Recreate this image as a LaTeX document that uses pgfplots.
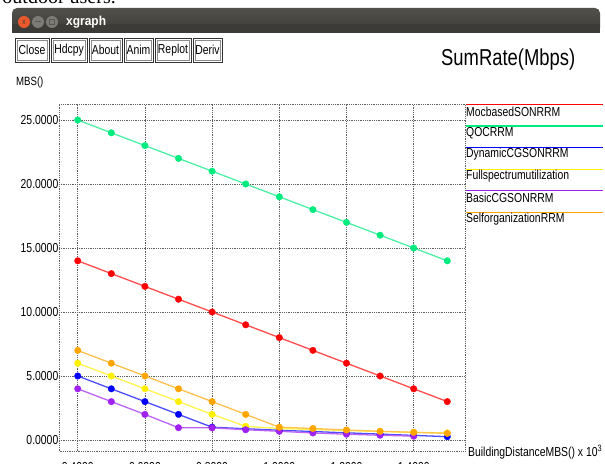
\documentclass[border=0pt]{standalone}
\usepackage{pgfplots}
\pgfplotsset{compat=1.18}
\usepackage{pgfplotstable}
\usepackage{fontspec}
\setmainfont{Liberation Sans}
\newfontfamily\xg[FakeStretch=0.8]{Liberation Sans}
\newfontfamily\xgb[FakeStretch=0.92]{Liberation Sans}
\newfontfamily\serif{Liberation Serif}
\newcommand\xgf{\xg\fontsize{13bp}{15bp}\selectfont}

\definecolor{cRed}{RGB}{255,0,0}
\definecolor{cGreen}{RGB}{0,235,125}
\definecolor{cBlue}{RGB}{0,0,255}
\definecolor{cYellow}{RGB}{255,240,0}
\definecolor{cPurple}{RGB}{160,32,240}
\definecolor{cOrange}{RGB}{255,165,0}
\definecolor{barTop}{RGB}{82,80,75}
\definecolor{barBot}{RGB}{60,59,55}
\definecolor{btnClose}{RGB}{235,90,45}
\definecolor{btnGray}{RGB}{125,123,117}
\definecolor{btnDark}{RGB}{90,88,84}
\definecolor{gridGray}{RGB}{95,95,95}

% sum rate per series, x in units of 10^3
\pgfplotstableread{
x    mocb qoc dyn  full basic self
0.4  14   25  5    6    4     7
0.5  13   24  4    5    3     6
0.6  12   23  3    4    2     5
0.7  11   22  2    3    0.96  4
0.8  10   21  1.0  2    0.95  3
0.9  9    20  0.88 1.07 0.80  2
1.0  8    19  0.76 0.90 0.68  1.0
1.1  7    18  0.66 0.82 0.55  0.9
1.2  6    17  0.56 0.74 0.45  0.78
1.3  5    16  0.46 0.66 0.37  0.68
1.4  4    15  0.36 0.60 0.30  0.60
1.5  3    14  0.26 0.55 nan   0.52
}\datatable

\tikzset{xgdot/.style={gridGray, line width=0.6bp, dash pattern=on 0.6bp off 1.2bp}}
\pgfplotsset{
  xgline/.style={draw=#1!70!white, line width=1.3bp, mark=*, mark size=3.3bp,
    mark options={fill=#1, draw=#1, line width=0.3bp}},
}

\begin{document}
\begin{tikzpicture}
\begin{scope}[x=1bp,y=1bp]
  % text of the page above the screenshot
  \node[anchor=base east, inner sep=0pt, font=\serif\fontsize{20bp}{22bp}\selectfont] at (116,460) {outdoor users.};
  % title bar
  \shade[top color=barTop, bottom color=barBot, rounded corners=5bp] (12,431) rectangle (600,456);
  \fill[barBot] (12,431) rectangle (600,440);
  \fill[btnClose] (24,442) circle (6);
  \fill[btnGray] (38,442) circle (6);
  \fill[btnGray] (52,442) circle (6);
  \node[font=\xg\fontsize{8bp}{8bp}\selectfont, text=barBot] at (24,442) {x};
  \draw[btnDark, line width=1bp] (35,442) -- (41,442);
  \draw[btnDark, line width=0.8bp] (49.5,439.5) rectangle (54.5,444.5);
  \node[anchor=west, inner sep=0pt, text=white, font=\xgb\bfseries\fontsize{13bp}{15bp}\selectfont] at (66,442) {xgraph};
  % buttons
  \foreach \a/\b/\lbl in {15/49/Close, 51/87/Hdcpy, 89/122/About, 124/153/Anim, 155/191/Replot, 193/222/Deriv}{
    \draw[black!80, line width=0.8bp] (\a,402) rectangle (\b,426);
    \draw[black!45, line width=0.6bp] (\a+2,404) rectangle (\b-2,424);
    \node[font=\xgf, inner sep=0pt] at ({(\a+\b)/2},414) {\lbl};
  }
  % title and axis names
  \node[anchor=west, inner sep=0pt, font=\xg\fontsize{23bp}{25bp}\selectfont] at (441,404) {SumRate(Mbps)};
  \node[anchor=west, inner sep=0pt, font=\xg\fontsize{12bp}{14bp}\selectfont] at (16,382) {MBS()};
  \node[anchor=base west, inner sep=0pt, font=\xgf] at (468,8) {BuildingDistanceMBS() x 10\textsuperscript{3}};
  % legend: coloured rule above each name
  \draw[cRed,    line width=1.2bp] (466,359.5) -- (603,359.5);
  \draw[cGreen,  line width=1.2bp] (466,337.9) -- (603,337.9);
  \draw[cBlue,   line width=1.2bp] (466,316.3) -- (603,316.3);
  \draw[cYellow, line width=1.2bp] (466,294.7) -- (603,294.7);
  \draw[cPurple, line width=1.2bp] (466,273.1) -- (603,273.1);
  \draw[cOrange, line width=1.2bp] (466,251.5) -- (603,251.5);
  \node[anchor=west, inner sep=0pt, font=\xgf] at (466,352.6) {MocbasedSONRRM};
  \node[anchor=west, inner sep=0pt, font=\xgf] at (466,331.0) {QOCRRM};
  \node[anchor=west, inner sep=0pt, font=\xgf] at (466,309.4) {DynamicCGSONRRM};
  \node[anchor=west, inner sep=0pt, font=\xgf] at (466,287.8) {Fullspectrumutilization};
  \node[anchor=west, inner sep=0pt, font=\xgf] at (466,266.2) {BasicCGSONRRM};
  \node[anchor=west, inner sep=0pt, font=\xgf] at (466,244.6) {SelforganizationRRM};
\end{scope}

\begin{axis}[
  at={(59bp,13bp)}, anchor=south west,
  scale only axis, width=406bp, height=347bp,
  xmin=0.3443, xmax=1.5527, ymin=-0.86, ymax=26.25,
  xtick={0.4,0.6,0.8,1.0,1.2,1.4}, ytick={0,5,10,15,20,25},
  scaled ticks=false,
  grid=major,
  major grid style={xgdot},
  axis line style={xgdot},
  major tick length=0pt,
  tick label style={font=\xgf},
  yticklabel style={inner sep=0pt, xshift=-0.5bp},
  xticklabel style={inner sep=0pt, yshift=-11bp},
  /pgf/number format/fixed,
  /pgf/number format/fixed zerofill,
  /pgf/number format/precision=4,
  /pgf/number format/assume math mode=true,
]
\addplot[xgline=cRed]    table[x=x, y=mocb]  {\datatable};
\addplot[xgline=cGreen]  table[x=x, y=qoc]   {\datatable};
\addplot[xgline=cBlue]   table[x=x, y=dyn]   {\datatable};
\addplot[xgline=cYellow] table[x=x, y=full]  {\datatable};
\addplot[xgline=cPurple] table[x=x, y=basic] {\datatable};
\addplot[xgline=cOrange] table[x=x, y=self]  {\datatable};
\end{axis}

\pgfresetboundingbox
\useasboundingbox (0,0) rectangle (605bp,464bp);
\end{tikzpicture}
\end{document}
